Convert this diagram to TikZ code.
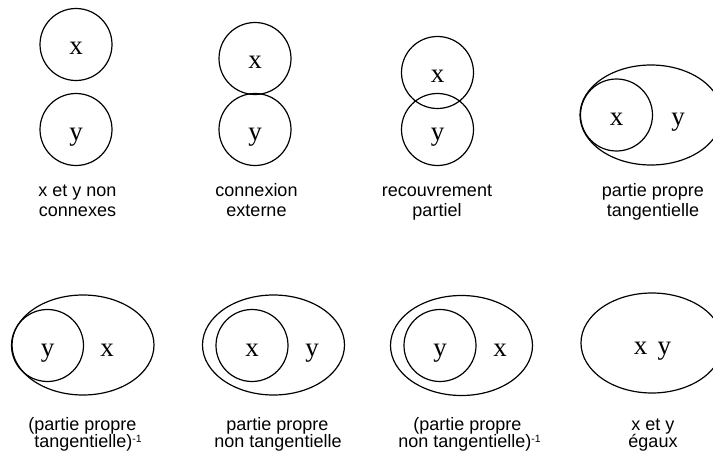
\documentclass[tikz,border=0pt]{standalone}
\usepackage{fontspec}
\setmainfont{Liberation Serif}
\setsansfont{Liberation Sans}
\usetikzlibrary{shapes.geometric}
\begin{document}
\begin{tikzpicture}[x=1pt,y=-1pt,
  circ/.style={draw,line width=1.2pt,circle,inner sep=0pt,minimum size=72pt},
  ell/.style={draw,line width=1.2pt,ellipse,inner sep=0pt,minimum width=142pt,minimum height=100pt},
  let/.style={anchor=base,inner sep=0pt,font=\fontsize{27}{27}\selectfont},
  lab/.style={anchor=base,inner sep=0pt,font=\sffamily\fontsize{18}{20}\selectfont}]
\useasboundingbox (0,0) rectangle (713,452);
\newcommand{\supm}{\raisebox{5pt}{\fontsize{10.5}{10.5}\selectfont -1}}
% Panel 1
\node[circ] (p1x) at (76,44.5) {};
\node[circ] (p1y) at (76,129.5) {};
\node[let] (t1x) at (76,55) {x};
\node[let] (t1y) at (76,140) {y};
\node[lab] (l1a) at (77.5,196.7) {x et y non};
\node[lab] (l1b) at (77.5,216.3) {connexes};
% Panel 2
\node[circ] (p2x) at (255,58.5) {};
\node[circ] (p2y) at (255,129.5) {};
\node[let] (t2x) at (255,68.5) {x};
\node[let] (t2y) at (255,140) {y};
\node[lab] (l2a) at (256.5,196.7) {connexion};
\node[lab] (l2b) at (256.5,216.3) {externe};
% Panel 3
\node[circ] (p3x) at (437.5,72.5) {};
\node[circ] (p3y) at (437.5,129.5) {};
\node[let] (t3x) at (437.5,82.5) {x};
\node[let] (t3y) at (437.5,140) {y};
\node[lab] (l3a) at (437,196.7) {recouvrement};
\node[lab] (l3b) at (437,216.3) {partiel};
% Panel 4
\node[ell] (p4y) at (651,115) {};
\node[circ] (p4x) at (616.5,115) {};
\node[let] (t4x) at (616.5,125.5) {x};
\node[let] (t4y) at (678,125.5) {y};
\node[lab] (l4a) at (653,196.7) {partie propre};
\node[lab] (l4b) at (653,216.3) {tangentielle};
% Panel 5
\node[ell] (p5x) at (83,345) {};
\node[circ] (p5y) at (47.5,345.5) {};
\node[let] (t5y) at (47.5,356) {y};
\node[let] (t5x) at (107,356) {x};
\node[lab] (l5a) at (82.5,430) {(partie propre};
\node[lab] (l5b) at (88,447.5) {tangentielle)\supm};
% Panel 6
\node[ell] (p6y) at (273.5,345) {};
\node[circ] (p6x) at (252,345.5) {};
\node[let] (t6x) at (252,356) {x};
\node[let] (t6y) at (312,356) {y};
\node[lab] (l6a) at (277.5,430) {partie propre};
\node[lab] (l6b) at (278,447.5) {non tangentielle};
% Panel 7
\node[ell] (p7x) at (461.5,345.5) {};
\node[circ] (p7y) at (440,345.5) {};
\node[let] (t7y) at (440,356) {y};
\node[let] (t7x) at (500,356) {x};
\node[lab] (l7a) at (467.5,430) {(partie propre};
\node[lab] (l7b) at (469.5,447.5) {non tangentielle)\supm};
% Panel 8
\node[ell] (p8) at (652,343) {};
\node[let] (t8) at (652.5,354) {x\hspace{0.38em}y};
\node[lab] (l8a) at (653,430) {x et y};
\node[lab] (l8b) at (653,447.5) {égaux};
\end{tikzpicture}
\end{document}
